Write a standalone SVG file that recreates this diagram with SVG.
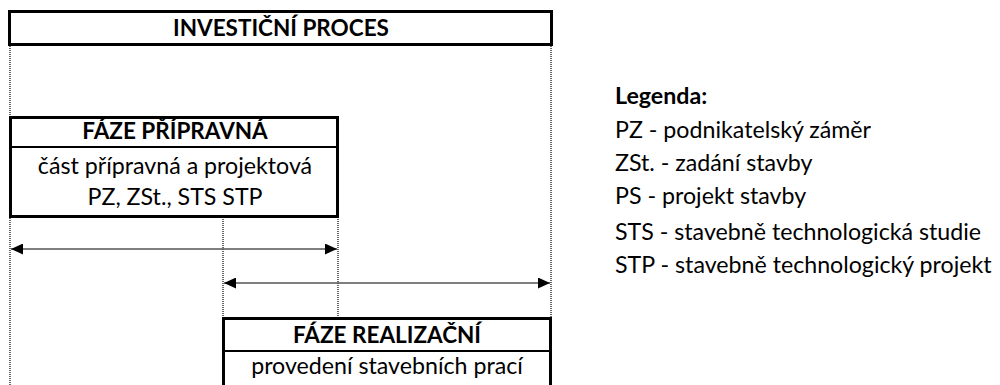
<svg xmlns="http://www.w3.org/2000/svg" width="1000" height="385" viewBox="0 0 1000 385">
<style>
.box{fill:#fff;stroke:#000;stroke-width:3}
.div{stroke:#000;stroke-width:2}
.dot{stroke:#444;stroke-width:1.6;stroke-dasharray:1 1;fill:none}
.arr{stroke:#555;stroke-width:1.6;fill:none;marker-start:url(#ah);marker-end:url(#ah)}
.t{font-family:Lato,"Liberation Sans",sans-serif;font-size:23.2px;fill:#000}
.b{font-weight:bold;font-size:22.5px}
.c{text-anchor:middle}
</style>
<defs>
<marker id="ah" viewBox="0 0 12 11" refX="12" refY="5.5" markerWidth="12" markerHeight="11" markerUnits="userSpaceOnUse" orient="auto-start-reverse">
<path d="M0,0 L12,5.5 L0,11 Z" fill="#000"/>
</marker>
</defs>
<g id="connectors">
<line class="dot" x1="10" y1="46" x2="10" y2="385"/>
<line class="dot" x1="551" y1="46" x2="551" y2="318"/>
<line class="dot" x1="223" y1="217" x2="223" y2="318"/>
<line class="dot" x1="338" y1="217" x2="338" y2="318"/>
<line class="arr" x1="11" y1="249" x2="337" y2="249"/>
<line class="arr" x1="224" y1="283" x2="550" y2="283"/>
</g>
<g id="investicni-proces">
<rect class="box" x="9.5" y="11.5" width="542" height="33"/>
<text class="t b c" x="281" y="36">INVESTIČNÍ PROCES</text>
</g>
<g id="faze-pripravna">
<rect class="box" x="10.5" y="117.5" width="327" height="99"/>
<line class="div" x1="10" y1="147" x2="338" y2="147"/>
<text class="t b c" x="175" y="139">FÁZE PŘÍPRAVNÁ</text>
<text class="t c" x="175" y="174">část přípravná a projektová</text>
<text class="t c" x="175" y="205">PZ, ZSt., STS STP</text>
</g>
<g id="faze-realizacni">
<rect class="box" x="223.5" y="318.5" width="327" height="80"/>
<line class="div" x1="223" y1="351" x2="551" y2="351"/>
<text class="t b c" x="387" y="343">FÁZE REALIZAČNÍ</text>
<text class="t c" x="387" y="374">provedení stavebních prací</text>
</g>
<g id="legenda">
<text class="t b" x="615" y="104" style="font-size:23.2px">Legenda:</text>
<text class="t" x="615" y="138">PZ - podnikatelský záměr</text>
<text class="t" x="615" y="171">ZSt. - zadání stavby</text>
<text class="t" x="615" y="204">PS - projekt stavby</text>
<text class="t" x="615" y="240">STS - stavebně technologická studie</text>
<text class="t" x="615" y="273">STP - stavebně technologický projekt</text>
</g>
</svg>
